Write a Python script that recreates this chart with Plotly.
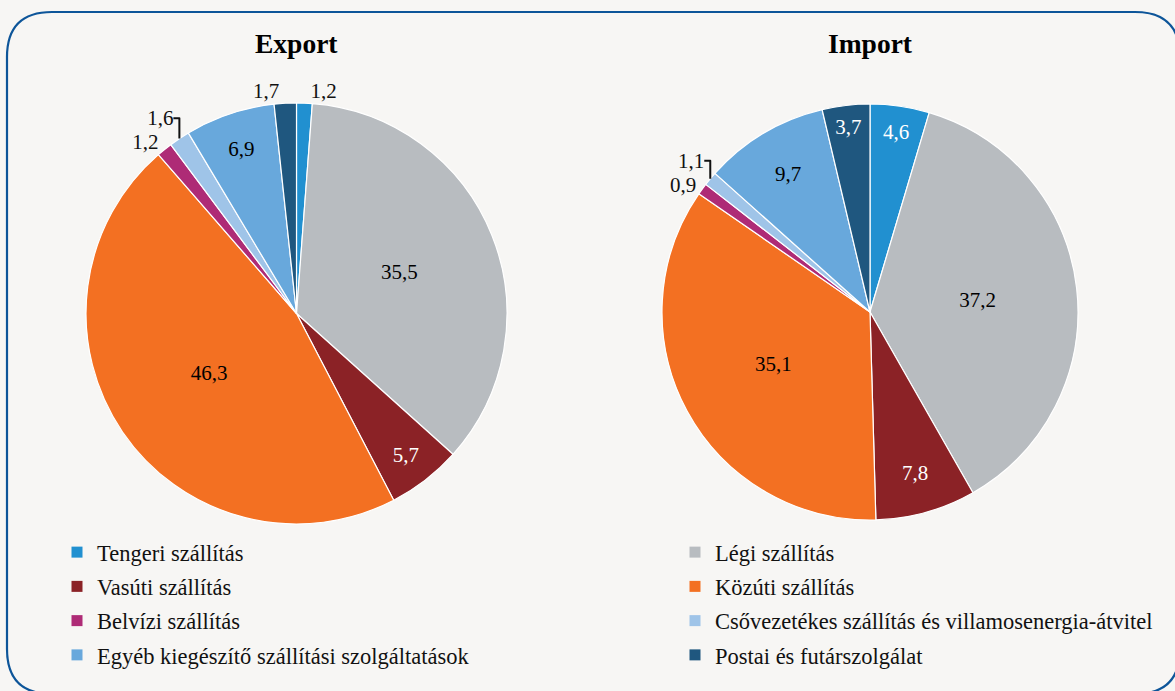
"""Export / import shares of transport services, two pies with shared legend."""

import plotly.graph_objects as go

LABELS = [
    "Tengeri szállítás",
    "Légi szállítás",
    "Vasúti szállítás",
    "Közúti szállítás",
    "Belvízi szállítás",
    "Csővezetékes szállítás és villamosenergia-átvitel",
    "Egyéb kiegészítő szállítási szolgáltatások",
    "Postai és futárszolgálat",
]
COLORS = ["#2190d0", "#b8bcc0", "#8b2226", "#f37022", "#ae2b76", "#9fc4e8", "#68a8dc", "#1f577f"]

EXPORT = [1.2, 35.5, 5.7, 46.3, 1.2, 1.6, 6.9, 1.7]
IMPORT = [4.6, 37.2, 7.8, 35.1, 0.9, 1.1, 9.7, 3.7]

EXPORT_POS = ["outside", "inside", "inside", "inside", "outside", "outside", "inside", "outside"]
IMPORT_POS = ["inside", "inside", "inside", "inside", "outside", "outside", "inside", "inside"]
EXPORT_TXT = ["black", "black", "white", "black", "black", "black", "black", "black"]
IMPORT_TXT = ["white", "black", "white", "black", "black", "black", "black", "white"]

W, H = 1175, 691
FONT = "Liberation Serif, Times New Roman, serif"
BG = "#f7f6f4"


def px_x(v):
    return v / W


def px_y(v):
    return 1 - v / H


def pie(values, pos, txt, dom_x, dom_y):
    return go.Pie(
        labels=LABELS,
        values=values,
        sort=False,
        direction="clockwise",
        rotation=0,
        marker=dict(colors=COLORS, line=dict(color="white", width=1.2)),
        texttemplate="%{value:.1f}",
        textposition=pos,
        insidetextfont=dict(color=txt, size=21, family=FONT),
        outsidetextfont=dict(color="#111", size=21, family=FONT),
        insidetextorientation="horizontal",
        hovertemplate="%{label}: %{value:.1f}%<extra></extra>",
        domain=dict(x=dom_x, y=dom_y),
        showlegend=False,
    )


fig = go.Figure()
fig.add_trace(pie(EXPORT, EXPORT_POS, EXPORT_TXT, [px_x(86), px_x(507)], [px_y(524), px_y(103)]))
fig.add_trace(pie(IMPORT, IMPORT_POS, IMPORT_TXT, [px_x(662), px_x(1078)], [px_y(521), px_y(103)]))

# legend in two columns (row-wise order), one legend per column
for i, (label, color) in enumerate(zip(LABELS, COLORS)):
    fig.add_trace(go.Scatter(
        x=[None], y=[None], mode="markers", name=label,
        marker=dict(symbol="square", size=11, color=color),
        legend="legend" if i % 2 == 0 else "legend2",
        legendgroup=str(i),
        hoverinfo="skip",
    ))

for name, cx in (("Export", 296), ("Import", 870)):
    fig.add_annotation(
        text=f"<b>{name}</b>", x=px_x(cx), y=px_y(43), xref="paper", yref="paper",
        xanchor="center", yanchor="middle",
        showarrow=False, font=dict(size=27.5, family=FONT, color="black"),
    )

# rounded frame, bottom and right edges run off the page
x0, y0, x1, y1 = px_x(7), px_y(12), px_x(1180), px_y(694)
rx, ry = 45 / W, 45 / H
path = (
    f"M {x0 + rx},{y0} L {x1 - rx},{y0} Q {x1},{y0} {x1},{y0 - ry} "
    f"L {x1},{y1 + ry} Q {x1},{y1} {x1 - rx},{y1} "
    f"L {x0 + rx},{y1} Q {x0},{y1} {x0},{y1 + ry} "
    f"L {x0},{y0 - ry} Q {x0},{y0} {x0 + rx},{y0} Z"
)
fig.add_shape(type="path", path=path, xref="paper", yref="paper",
              line=dict(color="#0d5599", width=2.2), layer="above")

legend_style = dict(
    orientation="v",
    y=px_y(531),
    xanchor="left",
    yanchor="top",
    font=dict(size=22.5, family=FONT, color="#111"),
    bgcolor="rgba(0,0,0,0)",
    traceorder="grouped",
    tracegroupgap=2,
)

fig.update_layout(
    width=W,
    height=H,
    margin=dict(l=0, r=0, t=0, b=0, autoexpand=False),
    paper_bgcolor=BG,
    plot_bgcolor=BG,
    separators=", ",
    font=dict(family=FONT, color="black"),
    xaxis=dict(visible=False),
    yaxis=dict(visible=False),
    legend=dict(x=px_x(57), **legend_style),
    legend2=dict(x=px_x(675), **legend_style),
)

fig.write_html(
    "out.html",
    config={"displayModeBar": False},
    post_script="document.body.style.margin='0';",
)
